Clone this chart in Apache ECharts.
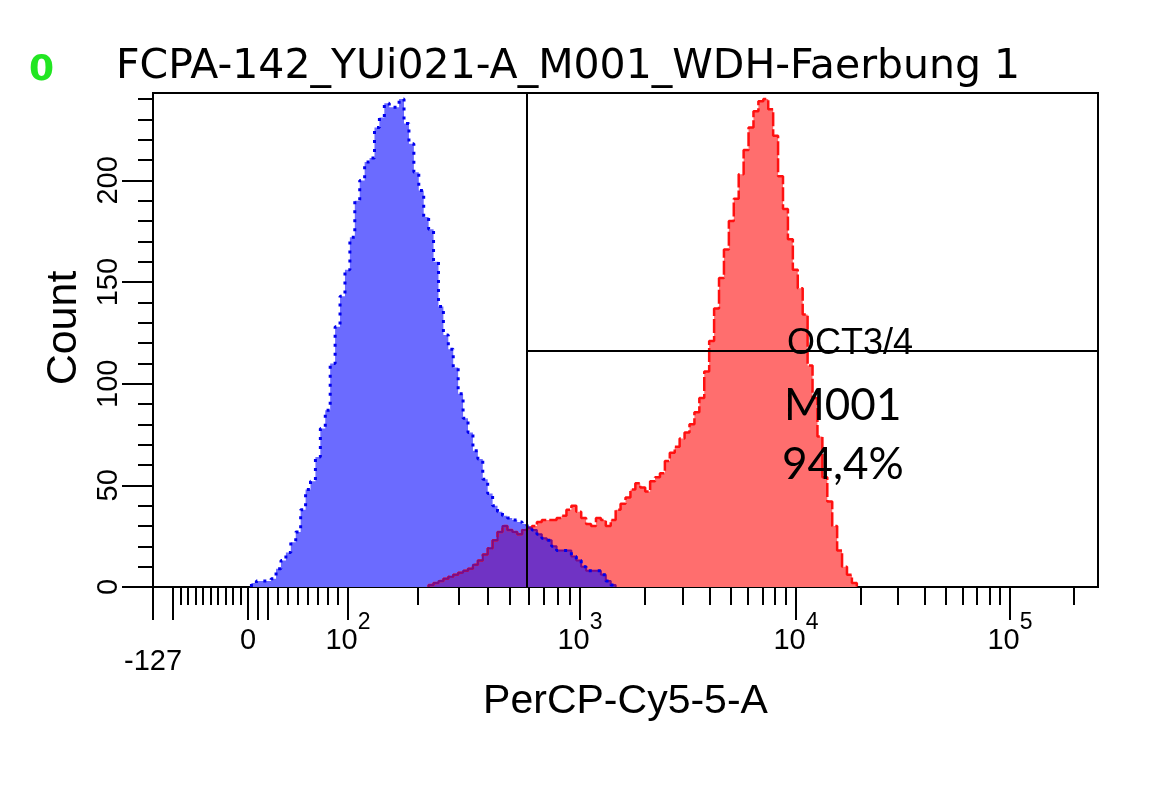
<!DOCTYPE html>
<html>
<head>
<meta charset="utf-8">
<title>FCPA-142_YUi021-A_M001_WDH-Faerbung 1</title>
<script src="https://cdn.jsdelivr.net/npm/echarts@6/dist/echarts.min.js"></script>
<style>
    html, body { margin: 0; padding: 0; background: #fff; }
    #histChart { width: 1150px; height: 806px; }
</style>
</head>
<body>
<div id="histChart"></div>
<script>
// 直方图数据 (按显示通道, 共 192 个通道)
var binCount = 192;
var blueStart = 20;     // 蓝色(对照)第一个非零通道
var blueCounts = [2, 3, 3, 3, 4, 9, 13, 17, 22, 27,
    38, 48, 52, 64, 78, 87, 110, 128, 143, 156,
    172, 190, 200, 209, 211, 226, 231, 238, 236, 236,
    240, 228, 218, 204, 195, 182, 176, 160, 138, 124,
    117, 108, 95, 83, 76, 67, 63, 53, 46, 40,
    37, 35, 34, 33, 32, 31, 30, 28, 26, 24,
    23, 20, 18, 18, 18, 15, 13, 10, 8, 8,
    8, 6, 3, 1];
var redStart = 56;      // 红色(样品)第一个非零通道
var redCounts = [1, 2, 3, 4, 5, 6, 7, 8, 9, 11,
    13, 16, 19, 23, 27, 30, 28, 27, 26, 28,
    29, 30, 32, 33, 33, 33, 34, 35, 38, 40,
    37, 34, 31, 30, 34, 33, 30, 33, 38, 41,
    44, 48, 51, 49, 47, 52, 54, 56, 62, 66,
    69, 73, 76, 80, 86, 93, 106, 121, 137, 152,
    166, 180, 191, 203, 215, 226, 234, 239, 240, 235,
    222, 202, 186, 171, 156, 147, 134, 109, 93, 74,
    54, 42, 30, 18, 10, 6, 2];

// M001 门
var gateLow = 591;
var gateCount = 116;

// 坐标轴
var yMax = 243;
var yMajorTicks = [0, 50, 100, 150, 200];
var xMajorTicks = [-127, 0, 100, 1000, 10000, 100000];
var xMajorLabels = ['-127', '0', '10^2', '10^3', '10^4', '10^5'];
var xLongTicks = [-100, 10, 20];
// 双指数轴: 数值 -> 通道
var scaleAnchors = [[-127, 0], [0, 19.3], [100, 39.62], [1000, 86.75],
    [10000, 130.64], [100000, 174.12], [262144, 192]];

var fontTick = "'Liberation Sans', Arial, sans-serif";

function toChannel(v) {
    for (var k = 1; k < scaleAnchors.length; k++) {
        var a = scaleAnchors[k - 1], b = scaleAnchors[k];
        if (v <= b[0] || k === scaleAnchors.length - 1) {
            var t;
            if (a[0] >= 100) {
                t = (Math.log10(v) - Math.log10(a[0])) / (Math.log10(b[0]) - Math.log10(a[0]));
            } else {
                t = (v - a[0]) / (b[0] - a[0]);
            }
            return a[1] + t * (b[1] - a[1]);
        }
    }
}

// 小刻度
function minorTickValues() {
    var list = [];
    for (var n = -90; n <= -10; n += 10) list.push(n);
    for (var p = 30; p <= 90; p += 10) list.push(p);
    for (var d = 100; d <= 10000; d *= 10) {
        for (var m = 2; m <= 9; m++) list.push(m * d);
    }
    list.push(200000);
    return list;
}

// 阶梯数据 (通道左边界)
function stepData(start, counts) {
    var out = [[start, 0]];
    for (var i = 0; i < counts.length; i++) {
        out.push([start + i, counts[i]]);
    }
    out.push([start + counts.length, 0]);
    return out;
}

function overlapCounts() {
    var s = Math.max(blueStart, redStart);
    var e = Math.min(blueStart + blueCounts.length, redStart + redCounts.length);
    var arr = [];
    for (var c = s; c < e; c++) {
        arr.push(Math.min(blueCounts[c - blueStart], redCounts[c - redStart]));
    }
    return { start: s, counts: arr };
}

function xLabel(value) {
    for (var k = 0; k < xMajorTicks.length; k++) {
        if (Math.abs(toChannel(xMajorTicks[k]) - value) < 1e-6) {
            var txt = xMajorLabels[k];
            if (txt.indexOf('^') > 0) {
                var parts = txt.split('^');
                return '{b|' + parts[0] + '}{e|' + parts[1] + '}';
            }
            if (txt.charAt(0) === '-') return '{low|' + txt + '}';
            return '{b|' + txt + '}';
        }
    }
    return '';
}

function RefreshHistChart() {
    var myChart = echarts.init(document.getElementById('histChart'));
    var ov = overlapCounts();
    var gx = toChannel(gateLow);

    var minorY = [];
    for (var y = 10; y <= 240; y += 10) {
        if (y % 50 !== 0) minorY.push(y);
    }

    var option = {
        animation: false,
        backgroundColor: '#fff',
        grid: {
            left: 153, top: 93, width: 945, height: 494,
            show: true, borderColor: '#000', borderWidth: 2, backgroundColor: '#fff'
        },
        xAxis: [
            {
                type: 'value', min: 0, max: binCount,
                name: 'PerCP-Cy5-5-A', nameLocation: 'middle', nameGap: 86,
                nameTextStyle: { fontSize: 41, fontFamily: fontTick, color: '#000', verticalAlign: 'middle' },
                axisLine: { lineStyle: { color: '#000', width: 2 } },
                axisTick: {
                    show: true, length: 33, lineStyle: { color: '#000', width: 2 },
                    customValues: xMajorTicks.concat(xLongTicks).map(toChannel)
                },
                axisLabel: {
                    show: true, margin: 24,
                    customValues: xMajorTicks.map(toChannel),
                    formatter: xLabel,
                    rich: {
                        b: { fontSize: 29, fontFamily: fontTick, color: '#000', lineHeight: 44, verticalAlign: 'bottom' },
                        e: { fontSize: 23, fontFamily: fontTick, color: '#000', lineHeight: 23, verticalAlign: 'top' },
                        low: { fontSize: 29, fontFamily: fontTick, color: '#000', lineHeight: 102 }
                    }
                },
                splitLine: { show: false }
            },
            {
                type: 'value', min: 0, max: binCount, position: 'bottom',
                axisLine: { show: false },
                axisTick: {
                    show: true, length: 18, lineStyle: { color: '#000', width: 2 },
                    customValues: minorTickValues().map(toChannel)
                },
                axisLabel: { show: false },
                splitLine: { show: false }
            }
        ],
        yAxis: [
            {
                type: 'value', min: 0, max: yMax, position: 'left',
                name: 'Count', nameLocation: 'middle', nameGap: 84, nameRotate: 90,
                nameTextStyle: { fontSize: 43, fontFamily: fontTick, color: '#000', verticalAlign: 'middle',
                    align: 'center', padding: [0, 0, 0, 24] },
                axisLine: { show: true, lineStyle: { color: '#000', width: 2 } },
                axisTick: {
                    show: true, length: 31, lineStyle: { color: '#000', width: 2 },
                    customValues: yMajorTicks
                },
                axisLabel: {
                    show: true, rotate: 90, margin: 30, customValues: yMajorTicks,
                    fontSize: 29, fontFamily: fontTick, color: '#000'
                },
                splitLine: { show: false }
            },
            {
                type: 'value', min: 0, max: yMax, position: 'left',
                axisLine: { show: false },
                axisTick: {
                    show: true, length: 15, lineStyle: { color: '#000', width: 2 },
                    customValues: minorY
                },
                axisLabel: { show: false },
                splitLine: { show: false }
            }
        ],
        graphic: [
            {
                type: 'text', x: 41.5, y: 70.5, silent: true,
                style: { text: '0', fontSize: 36, fontWeight: 'bold', fontFamily: "'DejaVu Sans', sans-serif",
                    fill: '#22e622', align: 'center', verticalAlign: 'middle' }
            },
            {
                type: 'text', x: 116, y: 67, silent: true,
                style: { text: 'FCPA-142_YUi021-A_M001_WDH-Faerbung 1', fontSize: 41,
                    fontFamily: "'DejaVu Sans', sans-serif", fill: '#000', align: 'left', verticalAlign: 'middle' }
            },
            {
                type: 'text', x: 787, y: 344, silent: true, z: 100,
                style: { text: 'OCT3/4', fontSize: 36, fontFamily: fontTick, fill: '#000',
                    align: 'left', verticalAlign: 'middle' }
            },
            {
                type: 'text', x: 784, y: 406, silent: true, z: 100,
                style: { text: 'M001', fontSize: 44, fontFamily: "Lato, 'Open Sans', sans-serif", fill: '#000',
                    align: 'left', verticalAlign: 'middle' }
            },
            {
                type: 'text', x: 782, y: 465, silent: true, z: 100,
                style: { text: '94,4%', fontSize: 44, fontFamily: "Lato, 'Open Sans', sans-serif", fill: '#000',
                    align: 'left', verticalAlign: 'middle' }
            }
        ],
        series: [
            {
                name: 'sample', type: 'line', step: 'end', symbol: 'none', silent: true,
                data: stepData(redStart, redCounts),
                lineStyle: { color: '#ff1010', width: 2.5, type: [14, 3] },
                areaStyle: { color: '#ff6e6e', opacity: 1 }
            },
            {
                name: 'control', type: 'line', step: 'end', symbol: 'none', silent: true,
                data: stepData(blueStart, blueCounts),
                lineStyle: { width: 0 },
                areaStyle: { color: '#6b6bff', opacity: 1 }
            },
            {
                name: 'overlap', type: 'line', step: 'end', symbol: 'none', silent: true,
                data: stepData(ov.start, ov.counts),
                lineStyle: { color: '#7a0a8a', width: 2 },
                areaStyle: { color: '#7033c4', opacity: 1 }
            },
            {
                name: 'control outline', type: 'line', step: 'end', symbol: 'none', silent: true,
                data: stepData(blueStart, blueCounts),
                lineStyle: { color: '#0000ee', width: 3, type: [3, 6] },
                markLine: {
                    silent: true, symbol: 'none', animation: false,
                    label: { show: false },
                    lineStyle: { color: '#000', width: 2, type: 'solid' },
                    data: [
                        [{ coord: [gx, 0] }, { coord: [gx, yMax] }],
                        [{ coord: [gx, gateCount] }, { coord: [binCount, gateCount] }]
                    ]
                }
            }
        ]
    };

    myChart.setOption(option);
}

RefreshHistChart();
</script>
</body>
</html>
